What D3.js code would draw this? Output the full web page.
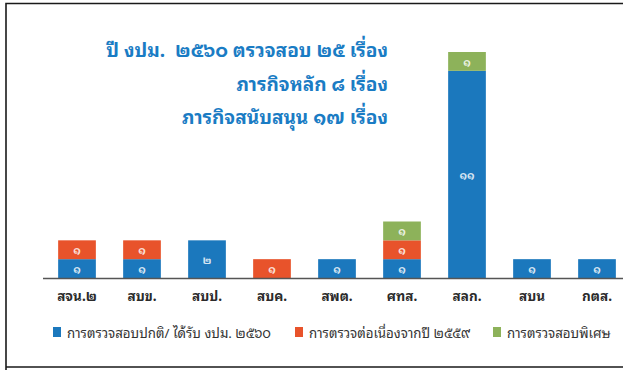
<!DOCTYPE html>
<html>
<head>
<meta charset="utf-8">
<script src="https://cdn.jsdelivr.net/npm/d3@7"></script>
<style>
  html, body { margin: 0; padding: 0; background: #fff; }
  svg { display: block; }
  text { font-family: "Noto Sans Thai Looped", "Tahoma", "Loma", "Garuda", "Noto Sans Thai", "DejaVu Sans", sans-serif; }
</style>
</head>
<body>
<svg id="chart" width="623" height="370"></svg>
<script>
// Units audited, in display order
const categories = ["สจน.๒", "สบข.", "สบป.", "สบค.", "สพต.", "ศทส.", "สลก.", "สบน", "กตส."];

// Number of audits per unit, by type
const regularAudits   = [1, 1, 2, 0, 1, 1, 11, 1, 1];  // การตรวจสอบปกติ / ได้รับ งปม. ๒๕๖๐
const carriedOver     = [1, 1, 0, 1, 0, 1, 0, 0, 0];   // การตรวจต่อเนื่องจากปี ๒๕๕๙
const specialAudits   = [0, 0, 0, 0, 0, 1, 1, 0, 0];   // การตรวจสอบพิเศษ

const seriesKeys   = ["regular", "carried", "special"];
const seriesLabels = ["การตรวจสอบปกติ/ ได้รับ งปม. ๒๕๖๐", "การตรวจต่อเนื่องจากปี ๒๕๕๙", "การตรวจสอบพิเศษ"];
const seriesColors = ["#1b78bd", "#e8532b", "#8db25a"];

const titleLines = ["ปี งปม.  ๒๕๖๐ ตรวจสอบ ๒๕ เรื่อง", "ภารกิจหลัก ๘ เรื่อง", "ภารกิจสนับสนุน ๑๗ เรื่อง"];

// Thai digits for value labels
const thaiDigits = "๐๑๒๓๔๕๖๗๘๙";
const toThai = n => String(n).replace(/[0-9]/g, d => thaiDigits[+d]);

const rows = categories.map((c, i) => ({
  category: c,
  regular: regularAudits[i],
  carried: carriedOver[i],
  special: specialAudits[i]
}));

const svg = d3.select("#chart");

// Frame
svg.append("path")
  .attr("d", "M6,370 L6,3.5 L623,3.5 M6,367 L623,367")
  .attr("fill", "none")
  .attr("stroke", "#1a1a1a")
  .attr("stroke-width", 1.6);

const baseY = 278;
const x = d3.scaleBand()
  .domain(categories)
  .range([44.5, 629.5])
  .paddingInner(0.42)
  .paddingOuter(0.21);

const y = d3.scaleLinear()
  .domain([0, 12])
  .range([baseY, 52]);

const stack = d3.stack().keys(seriesKeys);
const layers = stack(rows);

const g = svg.append("g");

layers.forEach((layer, li) => {
  const grp = g.append("g");
  grp.selectAll("rect")
    .data(layer.filter(d => d[1] - d[0] > 0))
    .join("rect")
    .attr("x", d => x(d.data.category))
    .attr("width", x.bandwidth())
    .attr("y", d => y(d[1]))
    .attr("height", d => y(d[0]) - y(d[1]))
    .attr("fill", seriesColors[li]);

  grp.selectAll("text")
    .data(layer.filter(d => d[1] - d[0] > 0))
    .join("text")
    .attr("x", d => x(d.data.category) + x.bandwidth() / 2)
    .attr("y", d => (y(d[0]) + y(d[1])) / 2 + 4.5)
    .attr("text-anchor", "middle")
    .attr("font-size", 11)
    .attr("font-weight", "bold")
    .attr("fill", "#ffffff")
    .attr("fill-opacity", 0.82)
    .text(d => toThai(d[1] - d[0]));
});

// Baseline axis
const xAxis = d3.axisBottom(x).tickSize(0).tickPadding(18);
const axisG = svg.append("g")
  .attr("transform", `translate(0,${baseY})`)
  .call(xAxis);
axisG.select(".domain")
  .attr("d", `M43,0.5 L623,0.5`)
  .attr("stroke", "#555")
  .attr("stroke-width", 1.5);
axisG.selectAll(".tick text")
  .attr("font-size", 13.5)
  .attr("font-weight", "bold")
  .attr("fill", "#2b2b2b")
  .attr("dy", "0.4em")
  .style("font-family", null);

// Title block
svg.append("g").selectAll("text")
  .data(titleLines)
  .join("text")
  .attr("x", 388)
  .attr("y", (d, i) => 57 + i * 33.5)
  .attr("text-anchor", "end")
  .attr("font-size", 19)
  .attr("font-weight", "bold")
  .attr("fill", "#1a7cc4")
  .style("white-space", "pre")
  .text(d => d);

// Legend
const legendX = [53, 295, 493];
const legend = svg.append("g");
seriesLabels.forEach((lab, i) => {
  legend.append("rect")
    .attr("x", legendX[i])
    .attr("y", 327)
    .attr("width", 8)
    .attr("height", 10)
    .attr("fill", seriesColors[i]);
  legend.append("text")
    .attr("x", legendX[i] + 14)
    .attr("y", 337.5)
    .attr("font-size", 13.3)
    .attr("fill", "#333")
    .text(lab);
});
</script>
</body>
</html>
